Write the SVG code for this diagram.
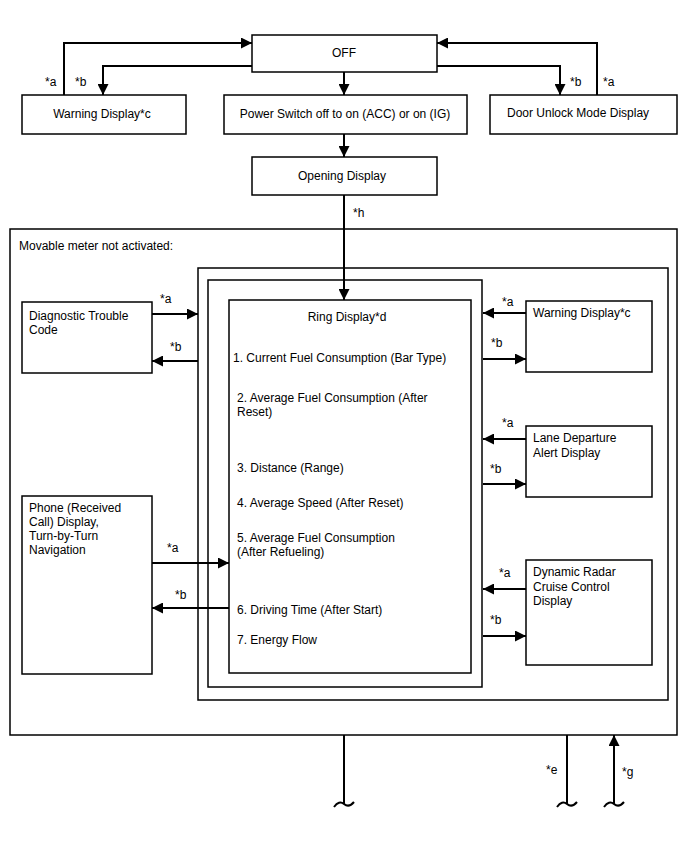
<svg xmlns="http://www.w3.org/2000/svg" width="688" height="852" viewBox="0 0 688 852">
<style>
  .box{fill:#fff;stroke:#000;stroke-width:1.5}
  .frame{fill:none;stroke:#000;stroke-width:1.5}
  .t{font-family:"Liberation Sans",Arial,sans-serif;font-size:12px;fill:#000}
  .c{text-anchor:middle}
  .ln{fill:none;stroke:#000;stroke-width:2}
  .arr{fill:none;stroke:#000;stroke-width:2;marker-end:url(#ah)}
</style>
<defs>
  <marker id="ah" viewBox="0 0 10 10" refX="10" refY="5" markerWidth="11" markerHeight="11" markerUnits="userSpaceOnUse" orient="auto">
    <path d="M0,0 L10,5 L0,10 Z" fill="#000"/>
  </marker>
</defs>
<rect width="688" height="852" fill="#fff"/>

<g id="movable-container">
  <rect class="frame" x="10" y="229" width="667" height="506"/>
  <text class="t" x="19" y="250">Movable meter not activated:</text>
</g>
<g id="group-outer">
  <rect class="frame" x="198" y="268" width="470" height="432"/>
</g>
<g id="group-inner">
  <rect class="frame" x="208" y="280" width="274" height="407"/>
</g>

<g id="off">
  <rect class="box" x="252" y="35" width="185" height="37"/>
  <text class="t c" x="344" y="57">OFF</text>
</g>
<g id="warning-top">
  <rect class="box" x="22" y="95" width="164" height="39"/>
  <text class="t c" x="102" y="118">Warning Display*c</text>
</g>
<g id="power-switch">
  <rect class="box" x="224" y="95" width="243" height="39"/>
  <text class="t c" x="345" y="118">Power Switch off to on (ACC) or on (IG)</text>
</g>
<g id="door-unlock">
  <rect class="box" x="490" y="95" width="187" height="39"/>
  <text class="t" x="507" y="117">Door Unlock Mode Display</text>
</g>
<g id="opening">
  <rect class="box" x="252" y="157" width="185" height="38"/>
  <text class="t c" x="342" y="180">Opening Display</text>
</g>

<g id="ring-display">
  <rect class="box" x="229" y="300" width="242" height="373"/>
  <text class="t c" x="347" y="321">Ring Display*d</text>
  <text class="t" x="233" y="362">1. Current Fuel Consumption (Bar Type)</text>
  <text class="t" x="237" y="402">2. Average Fuel Consumption (After</text>
  <text class="t" x="237" y="416">Reset)</text>
  <text class="t" x="237" y="472">3. Distance (Range)</text>
  <text class="t" x="237" y="507">4. Average Speed (After Reset)</text>
  <text class="t" x="237" y="542">5. Average Fuel Consumption</text>
  <text class="t" x="237" y="556">(After Refueling)</text>
  <text class="t" x="237" y="614">6. Driving Time (After Start)</text>
  <text class="t" x="237" y="644">7. Energy Flow</text>
</g>

<g id="dtc">
  <rect class="box" x="22" y="302" width="130" height="71"/>
  <text class="t" x="29" y="320">Diagnostic Trouble</text>
  <text class="t" x="29" y="334">Code</text>
</g>
<g id="phone">
  <rect class="box" x="22" y="496" width="130" height="178"/>
  <text class="t" x="29" y="512">Phone (Received</text>
  <text class="t" x="29" y="526">Call) Display,</text>
  <text class="t" x="29" y="540">Turn-by-Turn</text>
  <text class="t" x="29" y="554">Navigation</text>
</g>
<g id="warning-right">
  <rect class="box" x="526" y="301" width="126" height="71"/>
  <text class="t" x="533" y="317">Warning Display*c</text>
</g>
<g id="lane-departure">
  <rect class="box" x="526" y="426" width="126" height="71"/>
  <text class="t" x="533" y="442">Lane Departure</text>
  <text class="t" x="533" y="457">Alert Display</text>
</g>
<g id="radar-cruise">
  <rect class="box" x="526" y="560" width="126" height="105"/>
  <text class="t" x="533" y="576">Dynamic Radar</text>
  <text class="t" x="533" y="591">Cruise Control</text>
  <text class="t" x="533" y="605">Display</text>
</g>

<g id="connectors">
  <!-- top left -->
  <polyline class="arr" points="64,95 64,43 252,43"/>
  <polyline class="arr" points="252,66 103,66 103,95"/>
  <text class="t" x="45" y="86">*a</text>
  <text class="t" x="75" y="86">*b</text>
  <!-- top right -->
  <polyline class="arr" points="597,95 597,43 437,43"/>
  <polyline class="arr" points="437,66 560,66 560,95"/>
  <text class="t" x="570" y="86">*b</text>
  <text class="t" x="603" y="86">*a</text>
  <!-- vertical main -->
  <line class="arr" x1="344" y1="72" x2="344" y2="95"/>
  <line class="arr" x1="344" y1="134" x2="344" y2="157"/>
  <line class="arr" x1="344" y1="195" x2="344" y2="300"/>
  <text class="t" x="353" y="217">*h</text>
  <!-- DTC -->
  <line class="arr" x1="152" y1="314" x2="198" y2="314"/>
  <line class="arr" x1="198" y1="361" x2="152" y2="361"/>
  <text class="t" x="160" y="303">*a</text>
  <text class="t" x="170" y="351">*b</text>
  <!-- Phone -->
  <line class="arr" x1="152" y1="563" x2="229" y2="563"/>
  <line class="arr" x1="229" y1="608" x2="152" y2="608"/>
  <text class="t" x="167" y="552">*a</text>
  <text class="t" x="175" y="599">*b</text>
  <!-- Warning right -->
  <line class="arr" x1="526" y1="313" x2="483" y2="313"/>
  <line class="arr" x1="483" y1="359" x2="526" y2="359"/>
  <text class="t" x="502" y="306">*a</text>
  <text class="t" x="491" y="347">*b</text>
  <!-- Lane -->
  <line class="arr" x1="526" y1="439" x2="483" y2="439"/>
  <line class="arr" x1="483" y1="484" x2="526" y2="484"/>
  <text class="t" x="502" y="427">*a</text>
  <text class="t" x="490" y="473">*b</text>
  <!-- Radar -->
  <line class="arr" x1="526" y1="589" x2="483" y2="589"/>
  <line class="arr" x1="483" y1="636" x2="526" y2="636"/>
  <text class="t" x="499" y="577">*a</text>
  <text class="t" x="490" y="624">*b</text>
  <!-- bottom -->
  <line class="ln" x1="344" y1="735" x2="344" y2="804"/>
  <path class="ln" d="M334,807 Q339,800 344,804 Q349,808 354,802"/>
  <line class="ln" x1="567" y1="735" x2="567" y2="804"/>
  <path class="ln" d="M557,807 Q562,800 567,804 Q572,808 577,802"/>
  <text class="t" x="546" y="774">*e</text>
  <line class="arr" x1="614" y1="804" x2="614" y2="735"/>
  <path class="ln" d="M604,807 Q609,800 614,804 Q619,808 624,802"/>
  <text class="t" x="622" y="776">*g</text>
</g>
</svg>
